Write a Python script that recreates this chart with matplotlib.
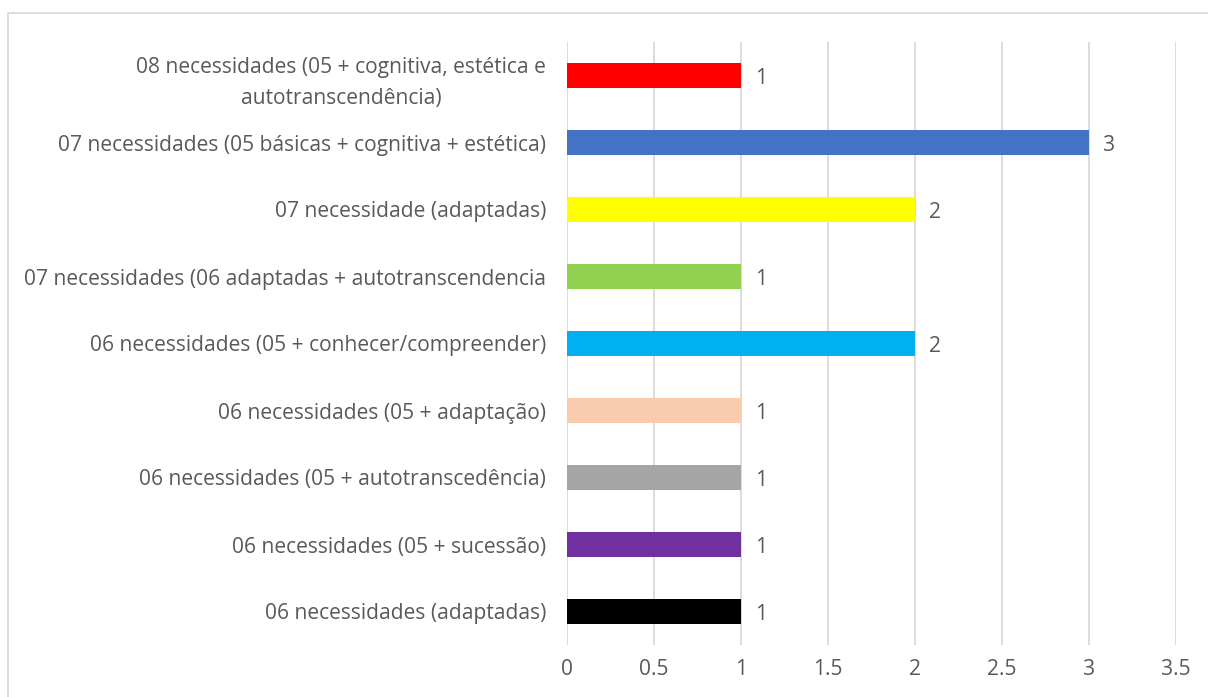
import matplotlib
matplotlib.use("Agg")
import matplotlib.pyplot as plt
from matplotlib.patches import Rectangle

categories = [
    "08 necessidades (05 + cognitiva, estética e\nautotranscendência)",
    "07 necessidades (05 básicas + cognitiva + estética)",
    "07 necessidade (adaptadas)",
    "07 necessidades (06 adaptadas + autotranscendencia",
    "06 necessidades (05 + conhecer/compreender)",
    "06 necessidades (05 + adaptação)",
    "06 necessidades (05 + autotranscedência)",
    "06 necessidades (05 + sucessão)",
    "06 necessidades (adaptadas)",
]
values = [1, 3, 2, 1, 2, 1, 1, 1, 1]
colors = ["#FF0000", "#4472C4", "#FFFF00", "#92D050", "#00B0F0",
          "#F8CBAD", "#A5A5A5", "#7030A0", "#000000"]
xticks = [0, 0.5, 1, 1.5, 2, 2.5, 3, 3.5]
xtick_labels = ["0", "0.5", "1", "1.5", "2", "2.5", "3", "3.5"]

W, H = 1208, 697
fig = plt.figure(figsize=(W / 100, H / 100), dpi=100)
fig.patch.set_facecolor("white")

# chart frame (extends past the right and bottom edges)
fig.patches.append(Rectangle((8 / W, -0.05), 1.2, (H - 13) / H + 0.05,
                             transform=fig.transFigure, fill=False,
                             edgecolor="#D9D9D9", linewidth=1.3))

ax = fig.add_axes([567 / W, 1 - 645 / H, (1176 - 567) / W, (645 - 42) / H])
font = "Open Sans"
txt = "#595959"
fs = 15.1

n = len(categories)
ypos = list(range(n))
ax.barh(ypos, values, height=0.36, color=colors, zorder=3)
ax.set_ylim(n - 0.5, -0.5)
ax.set_xlim(0, 3.5)

for y, v in zip(ypos, values):
    ax.annotate(str(v), (v, y), xytext=(10, -2), textcoords="offset points",
                ha="left", va="center", fontsize=fs, color=txt, family=font)

ax.set_yticks(ypos)
ax.set_yticklabels(categories, fontsize=fs, color=txt, family=font,
                   multialignment="center", linespacing=1.6)
ax.set_xticks(xticks)
ax.set_xticklabels(xtick_labels, fontsize=fs, color=txt, family=font)
ax.tick_params(axis="y", length=0, pad=15)
ax.tick_params(axis="x", length=0, pad=10)
ax.grid(axis="x", color="#D9D9D9", linewidth=1.3, zorder=0)
for s in ax.spines.values():
    s.set_visible(False)

fig.savefig("out.png", dpi=100, facecolor="white")
